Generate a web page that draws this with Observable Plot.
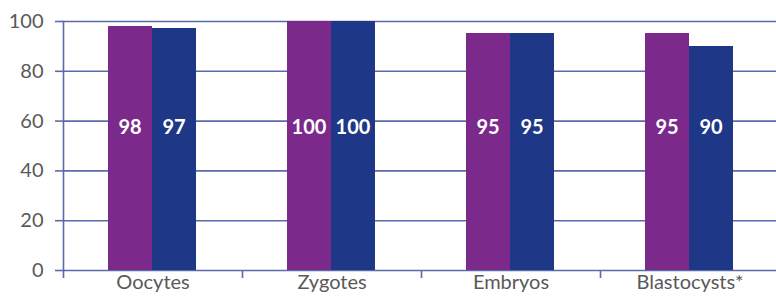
<!DOCTYPE html>
<html>
<head>
<meta charset="utf-8">
<script src="https://cdn.jsdelivr.net/npm/d3@7"></script>
<script src="https://cdn.jsdelivr.net/npm/@observablehq/plot@0.6"></script>
<style>
  html, body { margin: 0; padding: 0; background: #fff; }
</style>
</head>
<body>
<div id="chart"></div>
<script>
const categories = ["Oocytes", "Zygotes", "Embryos", "Blastocysts*"];
const seriesNames = ["Series 1", "Series 2"];
const series1 = [98, 100, 95, 95];
const series2 = [97, 100, 95, 90];
const yTicks = [0, 20, 40, 60, 80, 100];
const labelLevel = 60;

const data = categories.flatMap((c, i) => [
  {category: c, series: seriesNames[0], value: series1[i]},
  {category: c, series: seriesNames[1], value: series2[i]}
]);

const W = 776, H = 298, ML = 63, MR = -3;
const step = (W - MR - ML) / categories.length;
const gridColor = "#5b6aaa";

const chart = Plot.plot({
  width: W, height: H,
  marginLeft: ML, marginRight: MR, marginTop: 21, marginBottom: 28,
  style: {fontFamily: "Lato, 'Open Sans', sans-serif", background: "white", overflow: "visible"},
  fx: {domain: categories, padding: 0, label: null},
  x: {domain: seriesNames, paddingInner: 0, paddingOuter: 1, axis: null},
  y: {domain: [0, 100], label: null},
  color: {domain: seriesNames, range: ["#7b2a8c", "#1f3787"]},
  marks: [
    Plot.gridY(yTicks, {stroke: gridColor, strokeOpacity: 1, strokeWidth: 1.6}),
    Plot.axisY(yTicks, {tickSize: 8, tickPadding: 12, fontSize: 20, fill: "#595959", stroke: gridColor, strokeWidth: 1.6, label: null}),
    Plot.frame({anchor: "left", stroke: gridColor, strokeWidth: 1.6, facetAnchor: "left"}),
    Plot.barY(data, {fx: "category", x: "series", y: "value", fill: "series", dx: -1.5, shapeRendering: "crispEdges"}),
    Plot.text(data, {fx: "category", x: "series", y: () => labelLevel, text: d => String(d.value), fill: "white", fontWeight: "bold", fontSize: 20, dx: -1.5, dy: 6}),
    Plot.axisFx({anchor: "bottom", tickSize: 0, tickPadding: 4, fontSize: 20, fill: "#595959", label: null}),
    Plot.axisFx({anchor: "bottom", tickSize: 8, tickFormat: () => "", dx: -step / 2, stroke: gridColor, strokeWidth: 1.6, label: null})
  ]
});
document.getElementById("chart").appendChild(chart);
</script>
</body>
</html>
